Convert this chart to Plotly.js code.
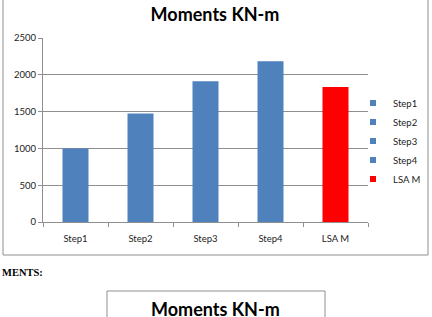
<!DOCTYPE html>
<html><head><meta charset="utf-8">
<script src="https://cdn.plot.ly/plotly-3.0.1.min.js"></script>
<style>html,body{margin:0;padding:0;background:#fff}#c{width:432px;height:317px}</style>
</head><body><div id="c"></div>
<script>
var categories = ['Step1','Step2','Step3','Step4','LSA M'];
var moments = [1000, 1475, 1912, 2185, 1835];
var colors = ['#4F81BD','#4F81BD','#4F81BD','#4F81BD','#FF0000'];
var yTicks = [0, 500, 1000, 1500, 2000, 2500];

var FONT = 'Lato, "Liberation Sans", sans-serif';
var W = 432, H = 317;
// plot area in pixels
var L = 43, R = 368, T = 38, B = 222;
function px(x){ return (x - L) / (R - L); }
function py(y){ return (B - y) / (B - T); }

var traces = [];
categories.forEach(function(c, i){
  traces.push({type:'bar', x:[c], y:[moments[i]], marker:{color:colors[i]}, width:0.4,
    name:c, showlegend:false, hoverinfo:'x+y'});
});
categories.forEach(function(c, i){
  traces.push({type:'scatter', mode:'markers', x:[null], y:[null], name:c,
    marker:{symbol:'square', size:6, color:colors[i]}, showlegend:true});
});

var gray = '#8f8f8f';
var layout = {
  width:W, height:H,
  margin:{l:L, r:W-R, t:T, b:H-B, pad:0, autoexpand:false},
  paper_bgcolor:'#fff', plot_bgcolor:'#fff',
  barmode:'overlay',
  title:{text:'<b>Moments KN-m</b>', x:215/W, xanchor:'center', y:1-15/H, yanchor:'middle', yref:'container',
    font:{family:FONT, size:18, color:'#000'}},
  xaxis:{type:'category', categories: categories, categoryorder:'array', categoryarray:categories,
    showline:true, linecolor:gray, linewidth:1, ticks:'outside', tickson:'boundaries', ticklen:4, tickcolor:gray,
    showgrid:false, zeroline:false, tickfont:{family:FONT, size:9.5, color:'#222'}, ticklabelstandoff:8, fixedrange:true},
  yaxis:{range:[0,2500], tickvals:yTicks, ticktext:yTicks.map(String), showline:true, linecolor:gray, linewidth:1,
    ticks:'outside', ticklen:4, tickcolor:gray, showgrid:true, gridcolor:gray, gridwidth:1, zeroline:false,
    tickfont:{family:FONT, size:9.5, color:'#222'}, fixedrange:true},
  legend:{xref:'container', yref:'container', x:353/W, xanchor:'left', y:1-141/H, yanchor:'middle',
    font:{family:FONT, size:9.5, color:'#222'}, bgcolor:'rgba(0,0,0,0)', tracegroupgap:0, itemwidth:30},
  shapes:[
    {type:'rect', xref:'paper', yref:'paper', x0:px(3), x1:px(428), y0:py(255), y1:py(-1), line:{color:gray, width:1}, fillcolor:'rgba(0,0,0,0)', layer:'below'},
    {type:'rect', xref:'paper', yref:'paper', x0:px(107), x1:px(325), y0:py(330), y1:py(291), line:{color:gray, width:1}, fillcolor:'rgba(0,0,0,0)', layer:'below'}
  ],
  annotations:[
    {xref:'paper', yref:'paper', x:px(0), xanchor:'left', y:py(272.5), yanchor:'middle', showarrow:false,
      text:'<b>MENTS:</b>', font:{family:'"Liberation Serif", "Times New Roman", serif', size:10.5, color:'#000'}},
    {xref:'paper', yref:'paper', x:px(215), xanchor:'center', y:py(308.5), yanchor:'middle', showarrow:false,
      text:'<b>Moments KN-m</b>', font:{family:FONT, size:18, color:'#000'}}
  ]
};
Plotly.newPlot('c', traces, layout, {displayModeBar:false, staticPlot:true});
</script></body></html>
